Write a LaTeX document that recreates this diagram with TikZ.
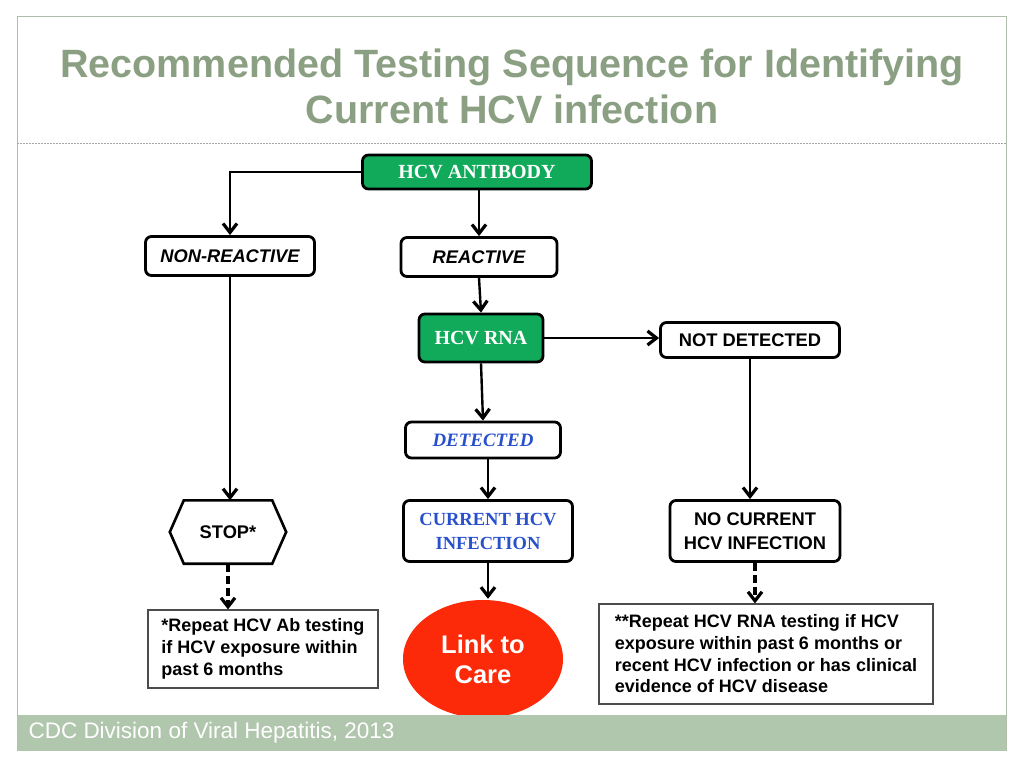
\documentclass[tikz,border=0pt]{standalone}
\usepackage{fontspec}
\setmainfont{Liberation Serif}
\setsansfont{Liberation Sans}
\usetikzlibrary{arrows.meta,shapes.geometric}
\definecolor{sagegreen}{RGB}{139,160,131}
\definecolor{footband}{RGB}{176,198,173}
\definecolor{boxgreen}{RGB}{16,170,90}
\definecolor{infblue}{RGB}{40,80,205}
\definecolor{carered}{RGB}{252,42,8}
\tikzset{
    > = {Straight Barb[length=9pt,width=14pt,line width=3.2pt 0]}
}

\begin{document}
\begin{tikzpicture}[x=1pt, y=-1pt, line width=2.4pt,
        box/.style={draw, line width=2.8pt, rounded corners=6pt, fill=white, align=center, inner sep=0pt},
        greenbox/.style={box, fill=boxgreen, text=white, font=\bfseries\fontsize{20}{22}\selectfont},
        sansbox/.style={box, font=\sffamily\bfseries\fontsize{18.3}{24}\selectfont},
        notebox/.style={draw=black!70, line width=1.2pt, align=left, inner sep=0pt,
            font=\sffamily\bfseries\fontsize{18}{21.7}\selectfont},
        flow/.style={->, line width=2.4pt},
        dflow/.style={->, line width=4.5pt, dash pattern=on 8pt off 4pt}]
    \useasboundingbox (0,0) rectangle (1023,768);
    \fill[white] (0,0) rectangle (1023,768);
    % slide frame
    \draw[sagegreen!70, line width=1pt] (17,751) -- (17,17) -- (1006,17) -- (1006,751);
    \draw[black!35, line width=0.8pt, dash pattern=on 2pt off 1pt] (17,143) -- (1006,143);
    \node[text=sagegreen, align=center, font=\sffamily\bfseries\fontsize{39.5}{46}\selectfont]
        (title) at (512,86) {Recommended Testing Sequence for Identifying\\Current HCV infection};

    % boxes
    \node[greenbox, minimum width=229, minimum height=34] (antibody) at (477,172) {HCV ANTIBODY};
    \node[sansbox, font=\sffamily\bfseries\itshape\fontsize{18.3}{22}\selectfont,
        minimum width=169, minimum height=39] (nonreact) at (230,256) {NON-REACTIVE};
    \node[sansbox, font=\sffamily\bfseries\itshape\fontsize{18.3}{22}\selectfont,
        minimum width=156, minimum height=39] (react) at (479,257) {REACTIVE};
    \node[greenbox, minimum width=124, minimum height=48] (rna) at (481,338) {HCV RNA};
    \node[sansbox, minimum width=179, minimum height=35] (notdet) at (750,340) {NOT DETECTED};
    \node[box, text=infblue, font=\bfseries\itshape\fontsize{18.9}{21}\selectfont,
        minimum width=155, minimum height=36] (det) at (483,440) {DETECTED};
    \node[font=\sffamily\bfseries\fontsize{18.3}{22}\selectfont,
        minimum width=114, minimum height=61, inner sep=0pt] (stop) at (228,532) {STOP*};
    \draw[line width=2.6pt, line join=miter] (stop.west) -- ([xshift=14pt]stop.north west)
        -- ([xshift=-14pt]stop.north east) -- (stop.east) -- ([xshift=-14pt]stop.south east)
        -- ([xshift=14pt]stop.south west) -- cycle;
    \node[box, text=infblue, font=\bfseries\fontsize{18.5}{24}\selectfont,
        minimum width=169, minimum height=61] (current) at (488,531) {CURRENT HCV\\INFECTION};
    \node[sansbox, minimum width=170, minimum height=61] (nocurrent) at (755,531) {NO CURRENT\\HCV INFECTION};

    % notes and outcome
    \node[notebox, minimum width=230, minimum height=78] (note1) at (263,649)
        {*Repeat HCV Ab testing\\if HCV exposure within\\past 6 months};
    \node[notebox, minimum width=334, minimum height=100] (note2) at (766,654)
        {**Repeat HCV RNA testing if HCV\\exposure within past 6 months or\\recent HCV infection or has clinical\\evidence of HCV disease};
    \node[ellipse, fill=carered, text=white, align=center, minimum width=160, minimum height=118,
        inner sep=0pt, font=\sffamily\bfseries\fontsize{25.5}{30}\selectfont] (care) at (483,659) {Link to\\Care};

    % footer
    \fill[footband] (17,715) rectangle (1006,751);
    \node[anchor=west, text=white, font=\sffamily\fontsize{22.5}{26}\selectfont] (footer) at (24,733)
        {CDC Division of Viral Hepatitis, 2013};

    % connectors
    \draw[flow] (antibody.west) -| (nonreact.north);
    \draw[flow] (antibody.south -| react.north) -- (react.north);
    \draw[flow] (react.south) -- (rna.north);
    \draw[flow] (rna.east) -- (rna.east -| notdet.west);
    \draw[flow] (rna.south) -- (det.north);
    \draw[flow] (det.south -| current.north) -- (current.north);
    \draw[flow] (nonreact.south) -- (nonreact.south |- stop.north);
    \draw[flow] (notdet.south) -- (notdet.south |- nocurrent.north);
    \draw[flow] (current.south) -- (current.south |- care.north);
    \draw[dflow] (stop.south) -- (stop.south |- note1.north);
    \draw[dflow] (nocurrent.south) -- (nocurrent.south |- note2.north);
\end{tikzpicture}
\end{document}
